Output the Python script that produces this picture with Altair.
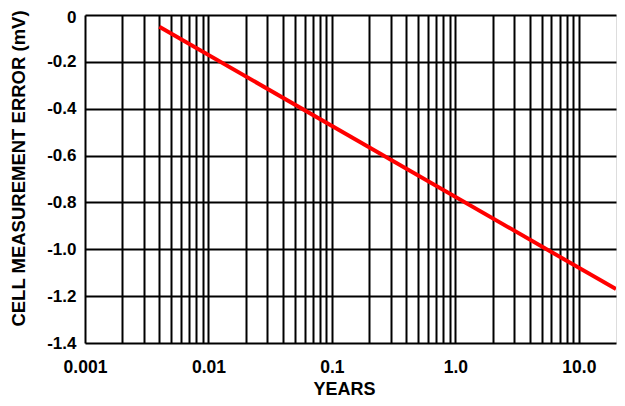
import altair as alt
import pandas as pd

years = [0.004, 20]
error_mv = [-0.05, -1.17]

x_grid = [0.001, 0.002, 0.003, 0.004, 0.005, 0.006, 0.007, 0.008, 0.009,
          0.01, 0.02, 0.03, 0.04, 0.05, 0.06, 0.07, 0.08, 0.09,
          0.1, 0.2, 0.3, 0.4, 0.5, 0.6, 0.7, 0.8, 0.9,
          1, 2, 3, 4, 5, 6, 7, 8, 9, 10]
y_grid = [0, -0.2, -0.4, -0.6, -0.8, -1.0, -1.2, -1.4]

df = pd.DataFrame({"years": years, "err": error_mv})

FONT = "Liberation Sans"

x_label_expr = ("datum.value == 0.001 ? '0.001' : datum.value == 0.01 ? '0.01' : "
                "datum.value == 0.1 ? '0.1' : datum.value == 1 ? '1.0' : "
                "datum.value == 10 ? '10.0' : ''")
y_label_expr = "datum.value == 0 ? '0' : '-' + format(-datum.value, '.1f')"

chart = alt.Chart(df).mark_line(color="#ff0000", strokeWidth=4, clip=True).encode(
    x=alt.X("years:Q",
            scale=alt.Scale(type="log", domain=[0.001, 20], nice=False),
            axis=alt.Axis(values=x_grid, labelExpr=x_label_expr, title="YEARS",
                          grid=True, gridColor="black", gridWidth=2, gridOpacity=1,
                          ticks=False, domain=False, labelOverlap=False,
                          labelFlush=False, labelPadding=15,
                          labelFont=FONT, labelFontSize=17.5, labelFontWeight="bold",
                          labelColor="black",
                          titleFont=FONT, titleFontSize=18, titleFontWeight="bold",
                          titleColor="black", titleX=259, titleY=51,
                          titleBaseline="alphabetic")),
    y=alt.Y("err:Q",
            scale=alt.Scale(domain=[-1.4, 0], nice=False, zero=False),
            axis=alt.Axis(values=y_grid, labelExpr=y_label_expr,
                          title="CELL MEASUREMENT ERROR (mV)",
                          grid=True, gridColor="black", gridWidth=2, gridOpacity=1,
                          ticks=False, domain=False, labelOverlap=False,
                          labelPadding=9,
                          labelOffset={"condition": {"test": "datum.value == 0", "value": 2}, "value": 0},
                          labelFont=FONT, labelFontSize=17, labelFontWeight="bold",
                          labelColor="black",
                          titleFont=FONT, titleFontSize=18.5, titleFontWeight="bold",
                          titleColor="black", titleX=-67, titleY=153,
                          titleBaseline="middle")),
).properties(
    width=531, height=328,
    autosize=alt.AutoSizeParams(type="none"),
    padding={"left": 77, "top": 7, "right": 1, "bottom": 55},
).configure_view(
    stroke="black", strokeWidth=2
).configure(background="white")

chart.save("out.html", embed_options={"renderer": "svg", "actions": False})
